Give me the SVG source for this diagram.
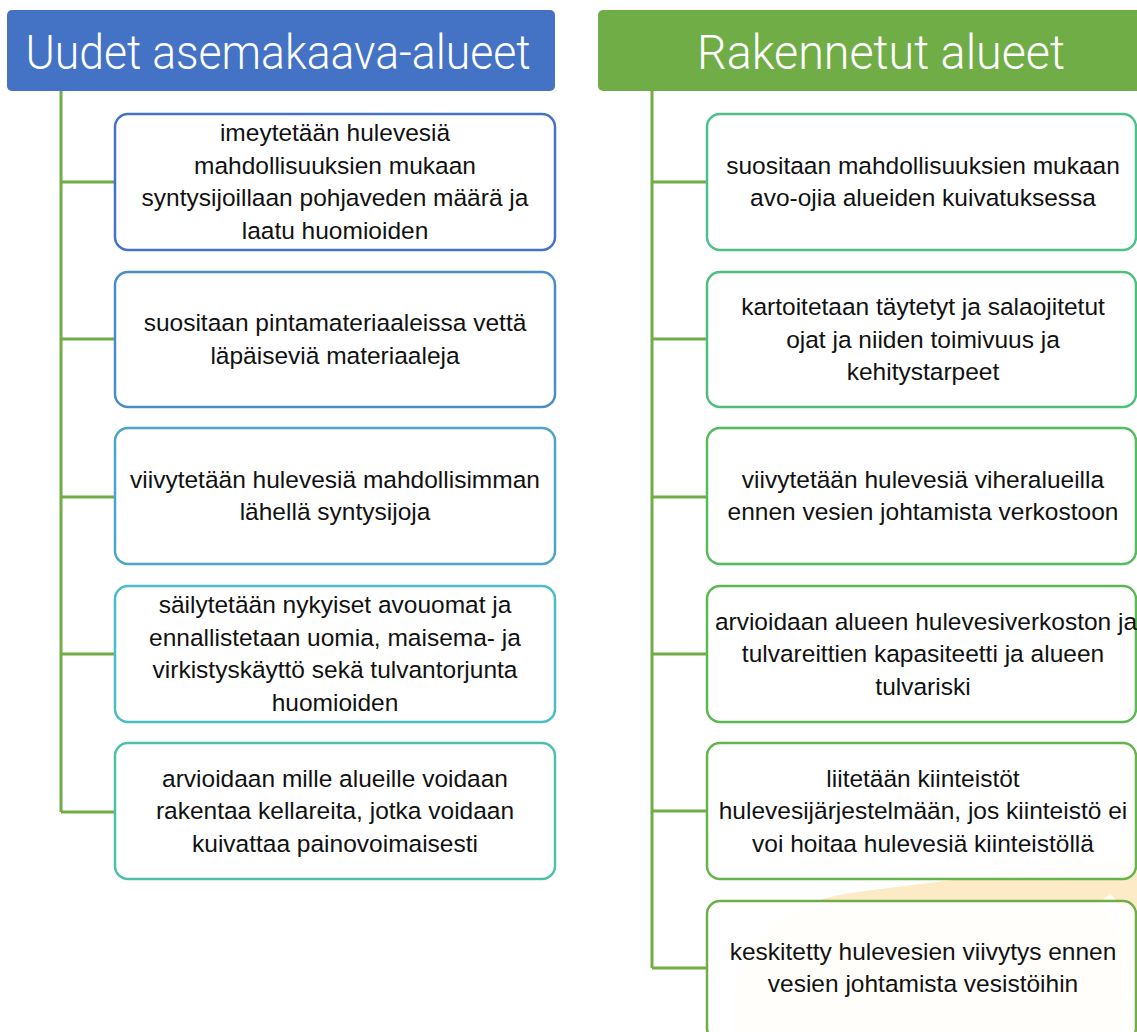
<svg xmlns="http://www.w3.org/2000/svg" width="1137" height="1032" viewBox="0 0 1137 1032">
<style>
.hdr{font-family:Roboto,"Liberation Sans",sans-serif;font-weight:300;font-size:49px;fill:#ffffff;text-anchor:middle}
.box{fill:#ffffff;fill-opacity:0.92;stroke-width:2.5}
.t{font-family:"Liberation Sans",Arial,sans-serif;font-size:24.5px;fill:#111111;text-anchor:middle}
.conn{fill:none;stroke:#70AD47;stroke-width:3}
</style>
<rect width="1137" height="1032" fill="#ffffff"/>
<g id="watermark">
<path d="M 735,1032 C 722,965 770,905 850,893 C 950,880 1050,868 1140,858 L 1140,1032 Z" fill="#FDE6BC" opacity="0.85"/>
<path d="M 1105,898 C 1135,930 1140,990 1125,1032" fill="none" stroke="#ffffff" stroke-width="14" opacity="0.8"/>
</g>
<g id="connectors">
<path class="conn" d="M 61,91 V 812 M 61,182 H 115 M 61,339 H 115 M 61,497 H 115 M 61,654 H 115 M 61,812 H 115"/>
<path class="conn" d="M 652,91 V 968 M 652,182 H 707 M 652,339 H 707 M 652,497 H 707 M 652,654 H 707 M 652,811 H 707 M 652,968 H 707"/>
</g>
<g id="header-left">
<rect x="7" y="10" width="548" height="81" rx="5" fill="#4472C4"/>
<text class="hdr" x="278" y="69" textLength="505" lengthAdjust="spacingAndGlyphs">Uudet asemakaava-alueet</text>
</g>
<g id="header-right">
<rect x="598" y="10" width="550" height="81" rx="5" fill="#70AD47"/>
<text class="hdr" x="881" y="69" textLength="368" lengthAdjust="spacingAndGlyphs">Rakennetut alueet</text>
</g>
<g id="left-1">
<rect class="box" x="115" y="114" width="440" height="136" rx="13" stroke="#4472C4"/>
<text class="t" x="335" y="141">imeytetään hulevesiä</text>
<text class="t" x="335" y="174">mahdollisuuksien mukaan</text>
<text class="t" x="335" y="206">syntysijoillaan pohjaveden määrä ja</text>
<text class="t" x="335" y="239">laatu huomioiden</text>
</g>
<g id="left-2">
<rect class="box" x="115" y="272" width="440" height="135" rx="13" stroke="#4A8CC8"/>
<text class="t" x="335" y="331">suositaan pintamateriaaleissa vettä</text>
<text class="t" x="335" y="364">läpäiseviä materiaaleja</text>
</g>
<g id="left-3">
<rect class="box" x="115" y="428" width="440" height="136" rx="13" stroke="#4AA5C8"/>
<text class="t" x="335" y="488">viivytetään hulevesiä mahdollisimman</text>
<text class="t" x="335" y="520">lähellä syntysijoja</text>
</g>
<g id="left-4">
<rect class="box" x="115" y="586" width="440" height="136" rx="13" stroke="#4BBDC4"/>
<text class="t" x="335" y="613">säilytetään nykyiset avouomat ja</text>
<text class="t" x="335" y="646">ennallistetaan uomia, maisema- ja</text>
<text class="t" x="335" y="678">virkistyskäyttö sekä tulvantorjunta</text>
<text class="t" x="335" y="711">huomioiden</text>
</g>
<g id="left-5">
<rect class="box" x="115" y="743" width="440" height="136" rx="13" stroke="#4DC0A8"/>
<text class="t" x="335" y="787">arvioidaan mille alueille voidaan</text>
<text class="t" x="335" y="819">rakentaa kellareita, jotka voidaan</text>
<text class="t" x="335" y="852">kuivattaa painovoimaisesti</text>
</g>
<g id="right-1">
<rect class="box" x="707" y="114" width="429" height="136" rx="13" stroke="#4DC08C"/>
<text class="t" x="923" y="174">suositaan mahdollisuuksien mukaan</text>
<text class="t" x="923" y="206">avo-ojia alueiden kuivatuksessa</text>
</g>
<g id="right-2">
<rect class="box" x="707" y="272" width="429" height="135" rx="13" stroke="#4EBF7A"/>
<text class="t" x="923" y="315">kartoitetaan täytetyt ja salaojitetut</text>
<text class="t" x="923" y="348">ojat ja niiden toimivuus ja</text>
<text class="t" x="923" y="380">kehitystarpeet</text>
</g>
<g id="right-3">
<rect class="box" x="707" y="428" width="429" height="136" rx="13" stroke="#55BC5E"/>
<text class="t" x="923" y="488">viivytetään hulevesiä viheralueilla</text>
<text class="t" x="923" y="520">ennen vesien johtamista verkostoon</text>
</g>
<g id="right-4">
<rect class="box" x="707" y="586" width="429" height="136" rx="13" stroke="#5BB852"/>
<text class="t" x="926" y="630">arvioidaan alueen hulevesiverkoston ja</text>
<text class="t" x="923" y="662">tulvareittien kapasiteetti ja alueen</text>
<text class="t" x="923" y="695">tulvariski</text>
</g>
<g id="right-5">
<rect class="box" x="707" y="743" width="429" height="136" rx="13" stroke="#65B44D"/>
<text class="t" x="923" y="787">liitetään kiinteistöt</text>
<text class="t" x="923" y="819">hulevesijärjestelmään, jos kiinteistö ei</text>
<text class="t" x="923" y="852">voi hoitaa hulevesiä kiinteistöllä</text>
</g>
<g id="right-6">
<rect class="box" x="707" y="901" width="429" height="140" rx="13" stroke="#70AD47"/>
<text class="t" x="923" y="960">keskitetty hulevesien viivytys ennen</text>
<text class="t" x="923" y="992">vesien johtamista vesistöihin</text>
</g>
</svg>
